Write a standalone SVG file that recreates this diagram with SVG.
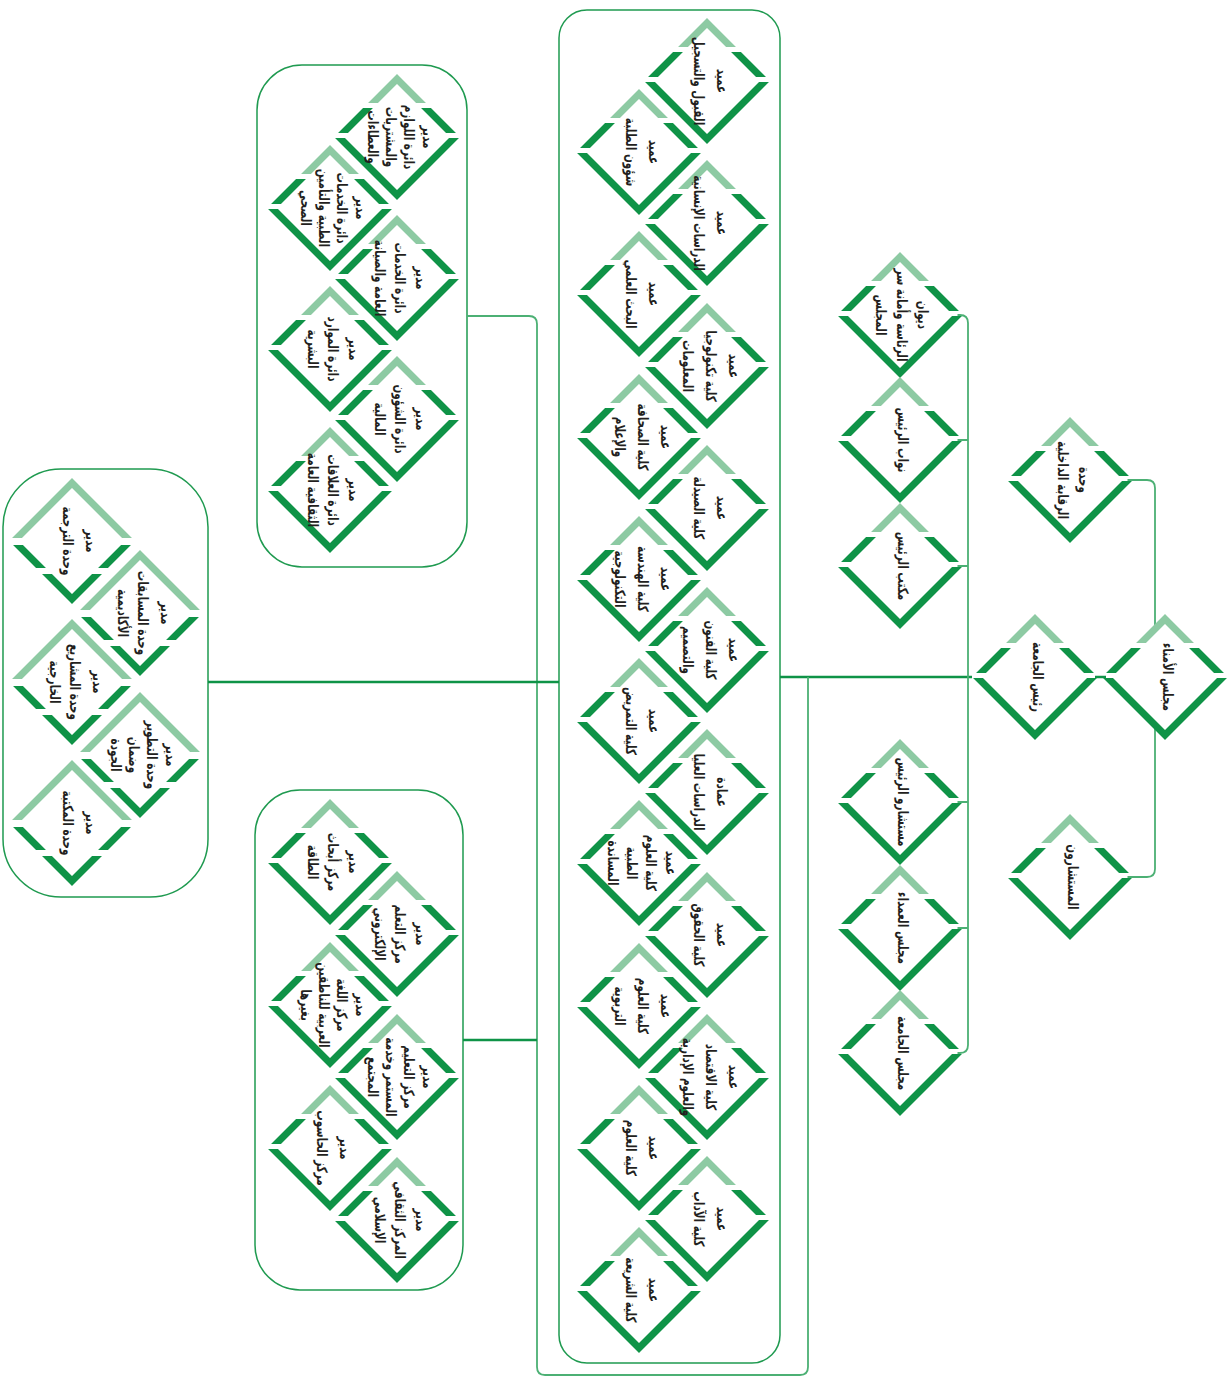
<svg xmlns="http://www.w3.org/2000/svg" xmlns:xlink="http://www.w3.org/1999/xlink" width="1230" height="1379" viewBox="0 0 1230 1379">
<style>
.t{font-family:"DejaVu Sans","Noto Sans",sans-serif;font-weight:bold;font-size:14.5px;fill:#231f20;text-anchor:middle;dominant-baseline:central}
.box{fill:none;stroke:#1f9a50;stroke-width:1.5}
.cn{fill:none;stroke:#4cb074;stroke-width:1.8}
.trunk{fill:none;stroke:#0f9347;stroke-width:2.5}
</style>
<defs>
<path id="dp" d="M0,-58 L58,0 L0,58 L-58,0 Z" fill="none" stroke-width="7" stroke-miterlimit="10"/>
<path id="df" d="M0,-58 L58,0 L0,58 L-58,0 Z" fill="#fff"/>
<clipPath id="cA1"><rect x="-70" y="-70" width="140" height="36"/></clipPath>
<clipPath id="cA2"><rect x="-70" y="-29" width="140" height="25"/><rect x="-70" y="1" width="140" height="70"/></clipPath>
<clipPath id="cB1"><rect x="-70" y="-70" width="140" height="67"/></clipPath>
<clipPath id="cB2"><rect x="-70" y="4" width="140" height="23"/><rect x="-70" y="33" width="140" height="40"/></clipPath>
<g id="dm"><use href="#df"/><use href="#dp" stroke="#8dcaa3" clip-path="url(#cA1)"/><use href="#dp" stroke="#0f9347" clip-path="url(#cA2)"/></g>
<g id="db"><use href="#df"/><use href="#dp" stroke="#8dcaa3" clip-path="url(#cB1)"/><use href="#dp" stroke="#0f9347" clip-path="url(#cB2)"/></g>
</defs>
<rect width="1230" height="1379" fill="#fff"/>

<g id="boxes">
<rect class="box" x="559" y="10" width="221" height="1353" rx="28"/>
<rect class="box" x="257" y="65" width="210" height="502" rx="45"/>
<rect class="box" x="255" y="790" width="208" height="500" rx="45"/>
<rect class="box" x="3" y="469" width="205" height="428" rx="58"/>
</g>

<g id="connectors">
<path class="trunk" d="M780,677 H972"/>
<path class="trunk" d="M1095,677 H1106"/>
<path class="cn" d="M1125,480 H1147 Q1155,480 1155,488 V869 Q1155,877 1147,877 H1125"/>
<path class="cn" d="M950,315 H960 Q968,315 968,323 V1045 Q968,1053 960,1053 H950"/>
<path class="cn" d="M950,440 H968 M950,566 H968 M950,802 H968 M950,928 H968"/>
<path class="cn" d="M467,316 H529 Q537,316 537,324 V1367 Q537,1375 545,1375 H800 Q808,1375 808,1367 V677"/>
<path class="trunk" d="M208,682 H559"/>
<path class="trunk" d="M463,1040 H537"/>
</g>

<g id="n-trustees" transform="translate(1165,677)"><use href="#dm"/><text class="t" transform="rotate(90) scale(0.72,1)"><tspan x="0" y="-4">مجلس الأمناء</tspan></text></g>
<g id="n-president" transform="translate(1035,677)"><use href="#dm"/><text class="t" transform="rotate(90) scale(0.72,1)"><tspan x="0" y="-4">رئيس الجامعة</tspan></text></g>
<g id="n-audit" transform="translate(1070,480)"><use href="#dm"/><text class="t" transform="rotate(90) scale(0.72,1)"><tspan x="0" y="-15">وحدة</tspan><tspan x="0" y="6">الرقابة الداخلية</tspan></text></g>
<g id="n-advisors" transform="translate(1070,877)"><use href="#dm"/><text class="t" transform="rotate(90) scale(0.72,1)"><tspan x="0" y="-4">المستشارون</tspan></text></g>

<g id="n-diwan" transform="translate(900,315)"><use href="#dm"/><text class="t" transform="rotate(90) scale(0.72,1)"><tspan x="0" y="-24">ديوان</tspan><tspan x="0" y="-3">الرئاسة وأمانة سر</tspan><tspan x="0" y="18">المجلس</tspan></text></g>
<g id="n-vp" transform="translate(900,440)"><use href="#dm"/><text class="t" transform="rotate(90) scale(0.72,1)"><tspan x="0" y="-4">نواب الرئيس</tspan></text></g>
<g id="n-office" transform="translate(900,566)"><use href="#dm"/><text class="t" transform="rotate(90) scale(0.72,1)"><tspan x="0" y="-4">مكتب الرئيس</tspan></text></g>
<g id="n-padv" transform="translate(900,802)"><use href="#dm"/><text class="t" transform="rotate(90) scale(0.72,1)"><tspan x="0" y="-4">مستشارو الرئيس</tspan></text></g>
<g id="n-deans" transform="translate(900,928)"><use href="#dm"/><text class="t" transform="rotate(90) scale(0.72,1)"><tspan x="0" y="-4">مجلس العمداء</tspan></text></g>
<g id="n-ucouncil" transform="translate(900,1053)"><use href="#dm"/><text class="t" transform="rotate(90) scale(0.72,1)"><tspan x="0" y="-4">مجلس الجامعة</tspan></text></g>

<g id="n-f1" transform="translate(707,81)"><use href="#dm"/><text class="t" transform="rotate(90) scale(0.72,1)"><tspan x="0" y="-16">عميد</tspan><tspan x="0" y="7">القبول والتسجيل</tspan></text></g>
<g id="n-f2" transform="translate(639,152)"><use href="#dm"/><text class="t" transform="rotate(90) scale(0.72,1)"><tspan x="0" y="-16">عميد</tspan><tspan x="0" y="7">شؤون الطلبة</tspan></text></g>
<g id="n-f3" transform="translate(707,223)"><use href="#dm"/><text class="t" transform="rotate(90) scale(0.72,1)"><tspan x="0" y="-16">عميد</tspan><tspan x="0" y="7">الدراسات الإنسانية</tspan></text></g>
<g id="n-f4" transform="translate(639,294)"><use href="#dm"/><text class="t" transform="rotate(90) scale(0.72,1)"><tspan x="0" y="-16">عميد</tspan><tspan x="0" y="7">البحث العلمي</tspan></text></g>
<g id="n-f5" transform="translate(707,366)"><use href="#dm"/><text class="t" transform="rotate(90) scale(0.72,1)"><tspan x="0" y="-28">عميد</tspan><tspan x="0" y="-5">كلية تكنولوجيا</tspan><tspan x="0" y="18">المعلومات</tspan></text></g>
<g id="n-f6" transform="translate(639,437)"><use href="#dm"/><text class="t" transform="rotate(90) scale(0.72,1)"><tspan x="0" y="-28">عميد</tspan><tspan x="0" y="-5">كلية الصحافة</tspan><tspan x="0" y="18">والإعلام</tspan></text></g>
<g id="n-f7" transform="translate(707,508)"><use href="#dm"/><text class="t" transform="rotate(90) scale(0.72,1)"><tspan x="0" y="-16">عميد</tspan><tspan x="0" y="7">كلية الصيدلة</tspan></text></g>
<g id="n-f8" transform="translate(639,579)"><use href="#dm"/><text class="t" transform="rotate(90) scale(0.72,1)"><tspan x="0" y="-28">عميد</tspan><tspan x="0" y="-5">كلية الهندسة</tspan><tspan x="0" y="18">التكنولوجية</tspan></text></g>
<g id="n-f9" transform="translate(707,650)"><use href="#dm"/><text class="t" transform="rotate(90) scale(0.72,1)"><tspan x="0" y="-28">عميد</tspan><tspan x="0" y="-5">كلية الفنون</tspan><tspan x="0" y="18">والتصميم</tspan></text></g>
<g id="n-f10" transform="translate(639,721)"><use href="#dm"/><text class="t" transform="rotate(90) scale(0.72,1)"><tspan x="0" y="-16">عميد</tspan><tspan x="0" y="7">كلية التمريض</tspan></text></g>
<g id="n-f11" transform="translate(707,792)"><use href="#dm"/><text class="t" transform="rotate(90) scale(0.72,1)"><tspan x="0" y="-16">عمادة</tspan><tspan x="0" y="7">الدراسات العليا</tspan></text></g>
<g id="n-f12" transform="translate(639,863)"><use href="#dm"/><text class="t" transform="rotate(90) scale(0.72,1)"><tspan x="0" y="-33">عميد</tspan><tspan x="0" y="-13">كلية العلوم</tspan><tspan x="0" y="6">الطبية</tspan><tspan x="0" y="25">المساندة</tspan></text></g>
<g id="n-f13" transform="translate(707,935)"><use href="#dm"/><text class="t" transform="rotate(90) scale(0.72,1)"><tspan x="0" y="-16">عميد</tspan><tspan x="0" y="7">كلية الحقوق</tspan></text></g>
<g id="n-f14" transform="translate(639,1006)"><use href="#dm"/><text class="t" transform="rotate(90) scale(0.72,1)"><tspan x="0" y="-28">عميد</tspan><tspan x="0" y="-5">كلية العلوم</tspan><tspan x="0" y="18">التربوية</tspan></text></g>
<g id="n-f15" transform="translate(707,1077)"><use href="#dm"/><text class="t" transform="rotate(90) scale(0.72,1)"><tspan x="0" y="-28">عميد</tspan><tspan x="0" y="-5">كلية الاقتصاد</tspan><tspan x="0" y="18">والعلوم الإدارية</tspan></text></g>
<g id="n-f16" transform="translate(639,1148)"><use href="#dm"/><text class="t" transform="rotate(90) scale(0.72,1)"><tspan x="0" y="-16">عميد</tspan><tspan x="0" y="7">كلية العلوم</tspan></text></g>
<g id="n-f17" transform="translate(707,1219)"><use href="#dm"/><text class="t" transform="rotate(90) scale(0.72,1)"><tspan x="0" y="-16">عميد</tspan><tspan x="0" y="7">كلية الآداب</tspan></text></g>
<g id="n-f18" transform="translate(639,1290)"><use href="#dm"/><text class="t" transform="rotate(90) scale(0.72,1)"><tspan x="0" y="-16">عميد</tspan><tspan x="0" y="7">كلية الشريعة</tspan></text></g>

<g id="n-a1" transform="translate(397,137)"><use href="#dm"/><text class="t" transform="rotate(90) scale(0.72,1)"><tspan x="0" y="-32">مدير</tspan><tspan x="0" y="-13">دائرة اللوازم</tspan><tspan x="0" y="5">والمشتريات</tspan><tspan x="0" y="23">والعطاءات</tspan></text></g>
<g id="n-a2" transform="translate(330,208)"><use href="#dm"/><text class="t" transform="rotate(90) scale(0.72,1)"><tspan x="0" y="-32">مدير</tspan><tspan x="0" y="-13">دائرة الخدمات</tspan><tspan x="0" y="5">الطبية والتأمين</tspan><tspan x="0" y="23">الصحي</tspan></text></g>
<g id="n-a3" transform="translate(397,278)"><use href="#dm"/><text class="t" transform="rotate(90) scale(0.72,1)"><tspan x="0" y="-25">مدير</tspan><tspan x="0" y="-4">دائرة الخدمات</tspan><tspan x="0" y="16">العامة والصيانة</tspan></text></g>
<g id="n-a4" transform="translate(330,349)"><use href="#dm"/><text class="t" transform="rotate(90) scale(0.72,1)"><tspan x="0" y="-25">مدير</tspan><tspan x="0" y="-4">دائرة الموارد</tspan><tspan x="0" y="16">البشرية</tspan></text></g>
<g id="n-a5" transform="translate(397,419)"><use href="#dm"/><text class="t" transform="rotate(90) scale(0.72,1)"><tspan x="0" y="-25">مدير</tspan><tspan x="0" y="-4">دائرة الشؤون</tspan><tspan x="0" y="16">المالية</tspan></text></g>
<g id="n-a6" transform="translate(330,490)"><use href="#dm"/><text class="t" transform="rotate(90) scale(0.72,1)"><tspan x="0" y="-25">مدير</tspan><tspan x="0" y="-4">دائرة العلاقات</tspan><tspan x="0" y="16">الثقافية العامة</tspan></text></g>

<g id="n-c1" transform="translate(330,862)"><use href="#dm"/><text class="t" transform="rotate(90) scale(0.72,1)"><tspan x="0" y="-25">مدير</tspan><tspan x="0" y="-4">مركز أبحاث</tspan><tspan x="0" y="16">الطاقة</tspan></text></g>
<g id="n-c2" transform="translate(397,934)"><use href="#dm"/><text class="t" transform="rotate(90) scale(0.72,1)"><tspan x="0" y="-25">مدير</tspan><tspan x="0" y="-4">مركز التعلم</tspan><tspan x="0" y="16">الإلكتروني</tspan></text></g>
<g id="n-c3" transform="translate(330,1005)"><use href="#dm"/><text class="t" transform="rotate(90) scale(0.72,1)"><tspan x="0" y="-32">مدير</tspan><tspan x="0" y="-13">مركز اللغة</tspan><tspan x="0" y="5">العربية للناطقين</tspan><tspan x="0" y="23">بغيرها</tspan></text></g>
<g id="n-c4" transform="translate(397,1077)"><use href="#dm"/><text class="t" transform="rotate(90) scale(0.72,1)"><tspan x="0" y="-32">مدير</tspan><tspan x="0" y="-13">مركز التعليم</tspan><tspan x="0" y="5">المستمر وخدمة</tspan><tspan x="0" y="23">المجتمع</tspan></text></g>
<g id="n-c5" transform="translate(330,1148)"><use href="#dm"/><text class="t" transform="rotate(90) scale(0.72,1)"><tspan x="0" y="-16">مدير</tspan><tspan x="0" y="7">مركز الحاسوب</tspan></text></g>
<g id="n-c6" transform="translate(397,1220)"><use href="#dm"/><text class="t" transform="rotate(90) scale(0.72,1)"><tspan x="0" y="-25">مدير</tspan><tspan x="0" y="-4">المركز الثقافي</tspan><tspan x="0" y="16">الإسلامي</tspan></text></g>

<g id="n-u1" transform="translate(72,541)"><use href="#db"/><text class="t" transform="rotate(90) scale(0.72,1)"><tspan x="0" y="-20">مدير</tspan><tspan x="0" y="3">وحدة الترجمة</tspan></text></g>
<g id="n-u2" transform="translate(140,613)"><use href="#db"/><text class="t" transform="rotate(90) scale(0.72,1)"><tspan x="0" y="-27">مدير</tspan><tspan x="0" y="-4">وحدة المسابقات</tspan><tspan x="0" y="16">الأكاديمية</tspan></text></g>
<g id="n-u3" transform="translate(72,682)"><use href="#db"/><text class="t" transform="rotate(90) scale(0.72,1)"><tspan x="0" y="-27">مدير</tspan><tspan x="0" y="-4">وحدة المشاريع</tspan><tspan x="0" y="16">الخارجية</tspan></text></g>
<g id="n-u4" transform="translate(140,755)"><use href="#db"/><text class="t" transform="rotate(90) scale(0.72,1)"><tspan x="0" y="-32">مدير</tspan><tspan x="0" y="-13">وحدة التطوير</tspan><tspan x="0" y="5">وضمان</tspan><tspan x="0" y="23">الجودة</tspan></text></g>
<g id="n-u5" transform="translate(72,823)"><use href="#db"/><text class="t" transform="rotate(90) scale(0.72,1)"><tspan x="0" y="-20">مدير</tspan><tspan x="0" y="3">وحدة المكتبة</tspan></text></g>
</svg>
